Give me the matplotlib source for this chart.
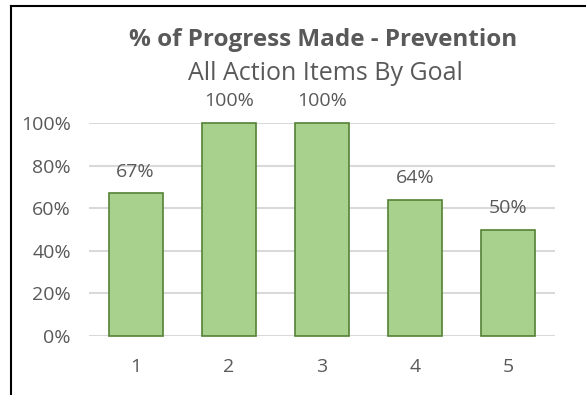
import matplotlib.pyplot as plt
from matplotlib.lines import Line2D
from matplotlib.ticker import PercentFormatter

plt.rcParams["font.family"] = ["Open Sans", "DejaVu Sans"]

# data
goals = ["1", "2", "3", "4", "5"]
progress = [67, 100, 100, 64, 50]
value_labels = ["67%", "100%", "100%", "64%", "50%"]

text_gray = "#595959"

fig = plt.figure(figsize=(5.86, 3.95), dpi=100)
ax = fig.add_axes([89 / 586, 1 - 336 / 395, 466 / 586, 213 / 395])

x = range(len(goals))
bars = ax.bar(x, progress, width=0.58, color="#A9D18E", edgecolor="#548235",
              linewidth=1.2, zorder=3, clip_on=False)
for b, lab in zip(bars, value_labels):
    ax.annotate(lab, (b.get_x() + b.get_width() / 2, b.get_height()),
                xytext=(0, 9), textcoords="offset points", ha="center",
                va="bottom", fontsize=14, color=text_gray)

ax.set_xlim(-0.5, len(goals) - 0.5)
ax.set_ylim(0, 100)
ax.set_yticks([0, 20, 40, 60, 80, 100])
ax.yaxis.set_major_formatter(PercentFormatter(decimals=0))
ax.set_xticks(list(x))
ax.set_xticklabels(goals)
ax.grid(axis="y", color="#D9D9D9", linewidth=1.5, zorder=0)
ax.tick_params(axis="both", length=0, labelsize=14, labelcolor=text_gray)
ax.tick_params(axis="y", pad=13)
ax.tick_params(axis="x", pad=16)
for s in ax.spines.values():
    s.set_visible(False)

fig.text(323 / 586, 1 - 40 / 395, "% of Progress Made - Prevention",
         ha="center", va="center", fontsize=17.5, fontweight="bold", color=text_gray)
fig.text(325 / 586, 1 - 74 / 395, "All Action Items By Goal",
         ha="center", va="center", fontsize=18, color=text_gray)

# black frame on top and left
fig.add_artist(Line2D([11 / 586, 1], [1 - 6 / 395, 1 - 6 / 395], color="black", linewidth=1.5))
fig.add_artist(Line2D([11 / 586, 11 / 586], [0, 1 - 6 / 395], color="black", linewidth=1.5))

fig.savefig("out.png", dpi=100)
